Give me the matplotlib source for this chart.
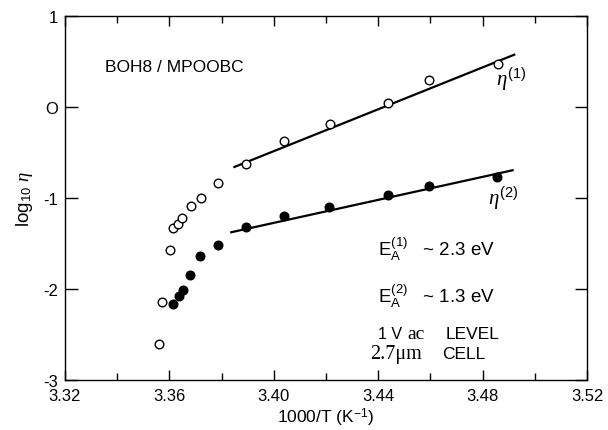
import matplotlib
matplotlib.use("Agg")
import matplotlib.pyplot as plt
from matplotlib.ticker import MultipleLocator

plt.rcParams['font.family'] = ['Liberation Sans', 'DejaVu Sans']
plt.rcParams['mathtext.fontset'] = 'custom'
plt.rcParams['mathtext.rm'] = 'Liberation Sans'
plt.rcParams['mathtext.it'] = 'Liberation Serif:italic'
plt.rcParams['mathtext.bf'] = 'Liberation Sans:bold'
plt.rcParams['axes.unicode_minus'] = False

# eta(1): open circles
x1 = [3.3560, 3.3573, 3.3603, 3.3615, 3.3632, 3.3649, 3.3682, 3.3721,
      3.3788, 3.3894, 3.4040, 3.4217, 3.4436, 3.4596, 3.4859]
y1 = [-2.613, -2.147, -1.573, -1.332, -1.288, -1.227, -1.095, -1.008,
      -0.839, -0.635, -0.376, -0.189, 0.041, 0.292, 0.471]

# eta(2): filled circles
x2 = [3.3615, 3.3636, 3.3651, 3.3679, 3.3719, 3.3787, 3.3893, 3.4040,
      3.4213, 3.4437, 3.4596, 3.4855]
y2 = [-2.172, -2.077, -2.011, -1.854, -1.646, -1.518, -1.323, -1.205,
      -1.102, -0.970, -0.869, -0.770]

# Arrhenius fit lines
fit_x1 = [3.3845, 3.4925]
fit_y1 = [-0.668, 0.574]
fit_x2 = [3.3833, 3.4919]
fit_y2 = [-1.383, -0.697]

xticks = [3.32, 3.36, 3.40, 3.44, 3.48, 3.52]
xticklabels = ['3.32', '3.36', '3.40', '3.44', '3.48', '3.52']
yticks = [-3, -2, -1, 0, 1]
yticklabels = ['-3', '-2', '-1', 'O', '1']

fig = plt.figure(figsize=(6.08, 4.31), dpi=100)
ax = fig.add_axes([0.1069, 0.1167, 0.8586, 0.8450])

ax.plot(fit_x1, fit_y1, color='black', lw=1.6, solid_capstyle='butt', zorder=2)
ax.plot(fit_x2, fit_y2, color='black', lw=1.6, solid_capstyle='butt', zorder=2)
ax.plot(x1, y1, 'o', ms=6.2, mfc='white', mec='black', mew=1.0, zorder=3)
ax.plot(x2, y2, 'o', ms=6.2, mfc='black', mec='black', mew=1.0, zorder=3)

ax.set_xlim(3.32, 3.52)
ax.set_ylim(-3, 1)
ax.set_xticks(xticks)
ax.set_xticklabels(xticklabels)
ax.xaxis.set_minor_locator(MultipleLocator(0.02))
ax.set_yticks(yticks)
ax.set_yticklabels(yticklabels)

for s in ax.spines.values():
    s.set_linewidth(1.0)
ax.tick_params(which='major', direction='in', length=7.5, width=1.0,
               top=True, right=True, labelsize=12)
ax.tick_params(axis='x', which='major', pad=6)
ax.tick_params(axis='y', which='major', pad=5, length=9)
ax.tick_params(which='minor', direction='in', length=5, width=1.0,
               top=True, right=True)

ax.set_xlabel('1000/T (K$^{-1}$)', fontsize=12.5, labelpad=2)
ax.set_ylabel(r'log$_{10}$ $\eta$', fontsize=13.5, labelpad=6)

ax.text(3.3353, 0.438, 'BOH8 / MPOOBC', fontsize=12.5, va='center', ha='left')

ax.text(3.4853, 0.245, r'$\eta^{(1)}$', fontsize=15, va='baseline', ha='left')
ax.text(3.4822, -1.062, r'$\eta^{(2)}$', fontsize=15, va='baseline', ha='left')

ax.text(3.4400, -1.635, r'$\mathrm{E}_{\mathrm{A}}^{(1)}$   ~ 2.3 eV',
        fontsize=13.5, va='baseline', ha='left')
ax.text(3.4400, -2.150, r'$\mathrm{E}_{\mathrm{A}}^{(2)}$   ~ 1.3 eV',
        fontsize=13.5, va='baseline', ha='left')

ax.text(3.4400, -2.537, '1 V', fontsize=11.5, va='baseline', ha='left')
ax.text(3.4512, -2.537, 'ac', fontsize=14, family='Liberation Serif',
        va='baseline', ha='left')
ax.text(3.4657, -2.537, 'LEVEL', fontsize=12.5, va='baseline', ha='left')
ax.text(3.4369, -2.763, '2.7\u03bcm', fontsize=14.5, family='Liberation Serif',
        va='baseline', ha='left')
ax.text(3.4644, -2.763, 'CELL', fontsize=12.5, va='baseline', ha='left')

fig.savefig('out.png', dpi=100)
